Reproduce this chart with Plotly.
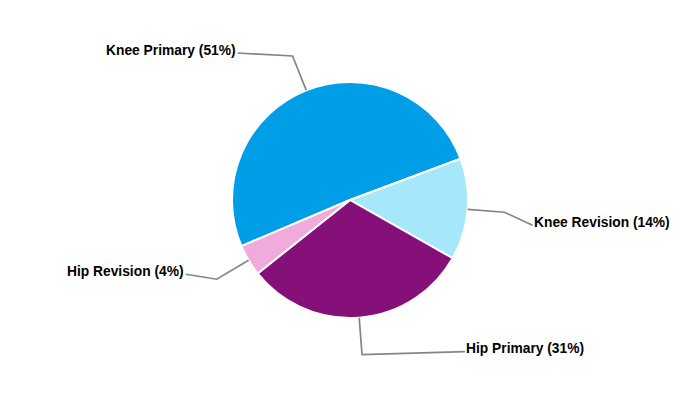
import math
import plotly.graph_objects as go

# ---- data ----
categories = ["Knee Primary", "Knee Revision", "Hip Primary", "Hip Revision"]
shares = [50.7, 13.9, 31.1, 4.3]
colors = ["#019EE8", "#A6E7FB", "#85107A", "#F0AADB"]

# ---- layout constants ----
W, H = 700, 400
PAGE_OFFSET = 8          # default page body margin in the browser
CX, CY, R = 350, 200, 118
ROTATION = 247          # clockwise degrees from 12 o'clock where first slice starts
ELBOW_R = 155
# offset (px) from elbow to the end of the leader line, per label
LABEL_OFFSETS = [(-55, -3), (28, 13), (103, -3), (-31, -5)]
LINE_COLOR = "#858585"
FONT = dict(family="Liberation Sans, Arial, sans-serif", size=13.8, color="#000000")


def px_to_paper(x, y):
    return (x - PAGE_OFFSET) / W, 1 - (y - PAGE_OFFSET) / H


total = sum(shares)
labels_text = [f"<b>{c} ({round(v / total * 100)}%)</b>" for c, v in zip(categories, shares)]

fig = go.Figure()
x0, y1 = px_to_paper(CX - R, CY - R)
x1, y0 = px_to_paper(CX + R, CY + R)
fig.add_trace(go.Pie(
    labels=categories, values=shares, sort=False, direction="clockwise",
    rotation=ROTATION, textinfo="none", hoverinfo="label+percent",
    marker=dict(colors=colors, line=dict(color="#FFFFFF", width=2)),
    domain=dict(x=[x0, x1], y=[y0, y1]), showlegend=False,
))

cum = 0.0
shapes, annotations = [], []
for i, v in enumerate(shares):
    mid = math.radians(ROTATION + (cum + v / 2) / total * 360)
    cum += v
    sx, sy = CX + R * math.sin(mid), CY - R * math.cos(mid)
    ex, ey = CX + ELBOW_R * math.sin(mid), CY - ELBOW_R * math.cos(mid)
    dx, dy = LABEL_OFFSETS[i]
    lx, ly = ex + dx, ey + dy
    pts = [px_to_paper(sx, sy), px_to_paper(ex, ey), px_to_paper(lx, ly)]
    path = "M {} {} L {} {} L {} {}".format(*[c for p in pts for c in p])
    shapes.append(dict(type="path", xref="paper", yref="paper", path=path,
                       line=dict(color=LINE_COLOR, width=1.7)))
    right = math.sin(mid) > 0
    ax, ay = px_to_paper(lx, ly)
    annotations.append(dict(
        x=ax, y=ay, xref="paper", yref="paper", text=labels_text[i], showarrow=False,
        xanchor="left" if right else "right", yanchor="middle",
        xshift=-1 if right else 0, yshift=3, font=FONT,
    ))

fig.update_layout(
    width=W, height=H, margin=dict(l=0, r=0, t=0, b=0),
    paper_bgcolor="#FFFFFF", plot_bgcolor="#FFFFFF",
    shapes=shapes, annotations=annotations,
)
fig.write_html("out.html")
